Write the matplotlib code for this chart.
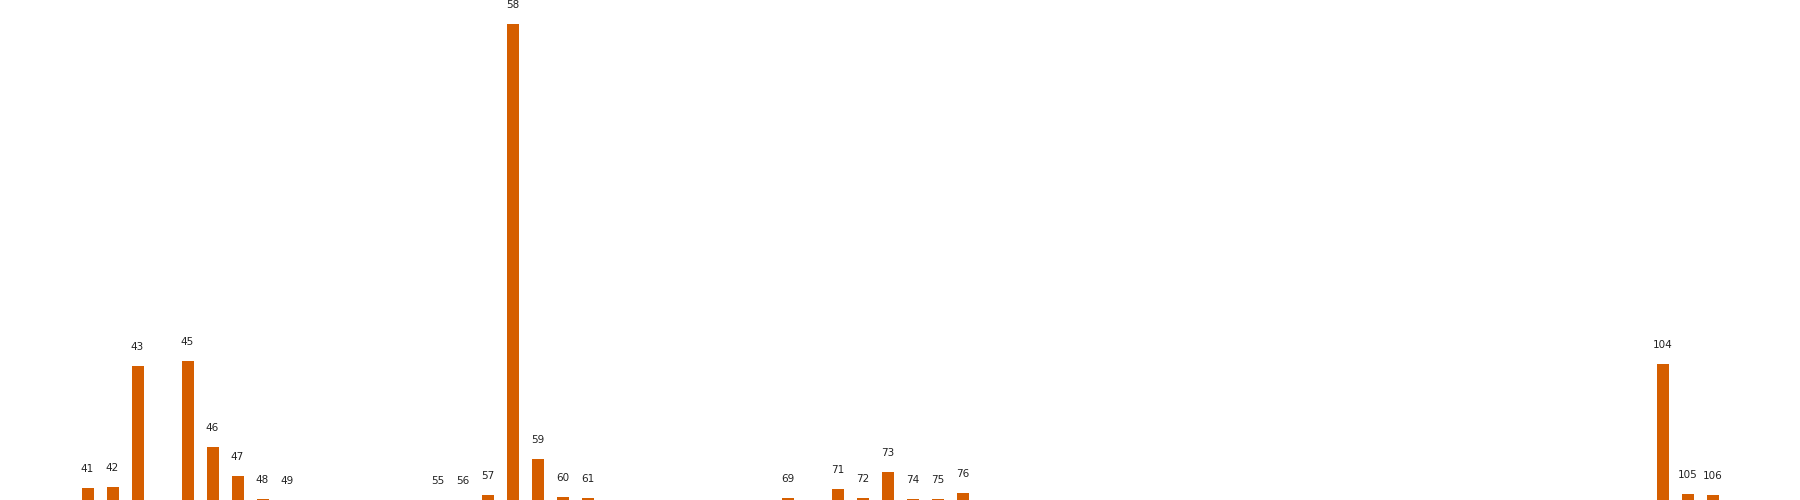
import matplotlib.pyplot as plt

# categories that carry a label (others in the range are empty)
cats = [41, 42, 43, 45, 46, 47, 48, 49, 55, 56, 57, 58, 59, 60, 61,
        69, 71, 72, 73, 74, 75, 76, 104, 105, 106]
vals = [12, 13, 134, 139, 53, 24, 1, 0, 0, 0, 5, 476, 41, 3, 2,
        2, 11, 2, 28, 1, 1, 7, 136, 6, 5]

fig = plt.figure(figsize=(18, 5), dpi=100)
ax = fig.add_axes([0, 0, 1, 1])

ax.bar(cats, vals, width=0.48, color='#D55E00')
for c, v in zip(cats, vals):
    ax.annotate(str(c), (c, v), xytext=(0, 14), textcoords='offset points',
                ha='center', va='center', fontsize=7.5, color='#222222')

ax.set_xlim(37.5, 109.5)
ax.set_ylim(0, 500)
ax.axis('off')

fig.savefig('out.png', dpi=100)
